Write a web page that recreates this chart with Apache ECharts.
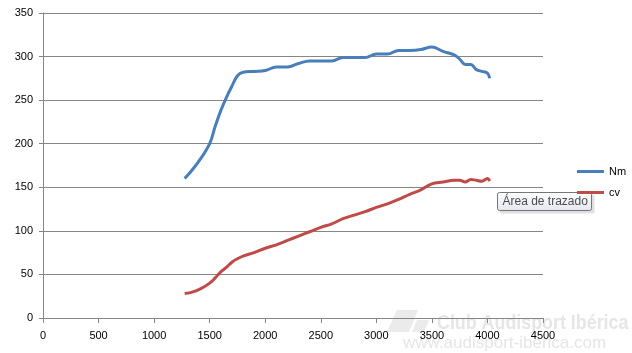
<!DOCTYPE html>
<html>
<head>
  <meta charset="utf-8">
  <title>Nm / cv</title>
  <script src="https://cdn.jsdelivr.net/npm/echarts@6/dist/echarts.min.js"></script>
</head>
<body style="margin: 0">
<div id="main" style="width: 632px; height: 353px"></div>

<script type="text/javascript">
  // rpm samples shared by both curves
  var rpm = [1275, 1350, 1425, 1500, 1550, 1600, 1650, 1700, 1750, 1800, 1900, 2000,
    2100, 2200, 2300, 2400, 2500, 2600, 2700, 2800, 2900, 3000, 3100, 3200,
    3300, 3400, 3500, 3600, 3700, 3750, 3800, 3850, 3900, 3950, 4000, 4020];
  var nm = [160, 171, 184, 200, 220, 238, 253, 266, 278, 282, 283, 284,
    288, 288, 292, 295, 295, 295, 299, 299, 299, 303, 303, 307,
    307, 308, 311, 306, 302, 297, 291, 291, 285, 283, 281, 275];
  var cv = [28, 30, 34, 40, 46, 53, 58, 64, 68, 71, 75, 80,
    84, 89, 94, 99, 104, 108, 114, 118, 122, 127, 131, 136,
    142, 147, 154, 156, 158, 158, 156, 159, 158, 157, 160, 157];
  var seriesNames = ['Nm', 'cv'];

  function pairs(ys) {
    var out = [];
    for (var i = 0; i < rpm.length; i++) {
      out.push([rpm[i], ys[i]]);
    }
    return out;
  }

  var chart = echarts.init(document.getElementById('main'));
  var gray = '#868686';
  var font = 'Liberation Sans';

  chart.setOption({
    animation: false,
    grid: { left: 43, right: 89, top: 13, bottom: 35 },
    xAxis: {
      type: 'value', min: 0, max: 4500, interval: 500,
      axisLine: { lineStyle: { color: gray } },
      axisTick: { show: true, length: 5, lineStyle: { color: gray } },
      axisLabel: { color: '#000', fontFamily: font, fontSize: 11, margin: 12,
        formatter: function (v) { return String(v); } },
      splitLine: { show: false }
    },
    yAxis: {
      type: 'value', min: 0, max: 350, interval: 50,
      axisLine: { show: true, lineStyle: { color: gray } },
      axisTick: { show: true, length: 4, lineStyle: { color: gray } },
      axisLabel: { color: '#000', fontFamily: font, fontSize: 11, margin: 10 },
      splitLine: { lineStyle: { color: gray } }
    },
    legend: {
      orient: 'vertical',
      left: 572, top: 161,
      itemWidth: 27, itemHeight: 3, itemGap: 10,
      icon: 'rect',
      textStyle: { color: '#000', fontFamily: font, fontSize: 11 },
      data: seriesNames
    },
    series: [
      {
        name: seriesNames[0], type: 'line', smooth: 0.4, showSymbol: false,
        color: '#4a7ebb', lineStyle: { width: 3 },
        data: pairs(nm), z: 5
      },
      {
        name: seriesNames[1], type: 'line', smooth: 0.4, showSymbol: false,
        color: '#be4b48', lineStyle: { width: 3 },
        data: pairs(cv), z: 5
      }
    ],
    graphic: [
      // watermark
      { type: 'polygon', z: -10, shape: { points: [[397, 310], [418, 310], [409, 332], [387, 332]] },
        style: { fill: '#ebebeb' } },
      { type: 'polygon', z: -10, shape: { points: [[417, 320], [429, 320], [424, 332], [412, 332]] },
        style: { fill: '#ebebeb' } },
      { type: 'text', z: -10, x: 437, y: 313, scaleX: 0.85,
        style: { text: 'Club Audisport Ibérica', fill: '#e6e6e6', font: 'bold 21px "Liberation Sans", sans-serif' } },
      { type: 'text', z: -10, x: 403, y: 335,
        style: { text: 'www.audisport-iberica.com', fill: '#e6e6e6', font: '17px "Liberation Sans", sans-serif' } },
      // hover tip box
      { type: 'group', left: 497, top: 192, z: 100, children: [
        { type: 'rect', shape: { x: 2, y: 2, width: 95, height: 19, r: 2 },
          style: { fill: 'rgba(0,0,0,0.12)' } },
        { type: 'rect', shape: { x: 0, y: 0, width: 94, height: 18, r: 2 },
          style: { fill: new echarts.graphic.LinearGradient(0, 0, 0, 1, [
            { offset: 0, color: '#ffffff' }, { offset: 1, color: '#e4e5f0' }]),
            stroke: '#767676', lineWidth: 1 } },
        { type: 'text', x: 5, y: 3,
          style: { text: 'Área de trazado', fill: '#4c4c4c', font: '12px "Liberation Sans", sans-serif' } }
      ] }
    ]
  });
</script>
</body>
</html>
